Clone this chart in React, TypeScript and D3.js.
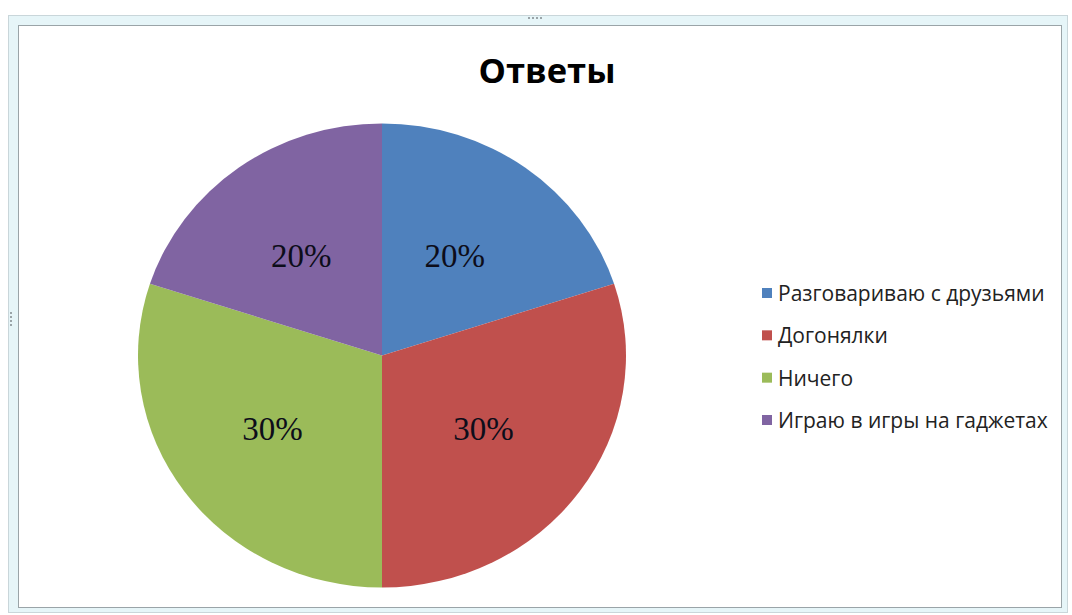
import React from "react";
import * as d3 from "d3";

const categories = [
  "Разговариваю с друзьями",
  "Догонялки",
  "Ничего",
  "Играю в игры на гаджетах",
];
const values = [20, 30, 30, 20];
const labels = ["20%", "30%", "30%", "20%"];
const colors = ["#4F81BD", "#C0504D", "#9BBB59", "#8064A2"];
const title = "Ответы";

export default function App() {
  const W = 1072;
  const H = 615;
  const cx = 382;
  const cy = 355.5;
  const ry = 232;
  const rx = 244;
  const sx = rx / ry;

  const pie = d3
    .pie<number>()
    .sort(null)
    .value((d) => d)
    .startAngle(0)
    .endAngle(2 * Math.PI);
  const arcs = pie(values);
  const arc = d3.arc<d3.PieArcDatum<number>>().innerRadius(0).outerRadius(ry);
  const labelArc = d3
    .arc<d3.PieArcDatum<number>>()
    .innerRadius(124)
    .outerRadius(124);

  const legendY = d3
    .scalePoint<string>()
    .domain(categories)
    .range([293, 420]);

  return (
    <svg
      width={W}
      height={H}
      style={{ position: "absolute", left: 0, top: 0, background: "#fff" }}
    >
      {/* frame */}
      <rect x={8.5} y={15.5} width={1059} height={597} fill="#e6f5f8" stroke="#c9d6da" />
      <rect x={18.5} y={25.5} width={1043} height={582} fill="#ffffff" stroke="#9aa4a8" />
      <g fill="#9aa4a8">
        <rect x={528} y={17} width={2} height={2} />
        <rect x={532} y={17} width={2} height={2} />
        <rect x={536} y={17} width={2} height={2} />
        <rect x={540} y={17} width={2} height={2} />
        <rect x={10} y={312} width={2} height={2} />
        <rect x={10} y={316} width={2} height={2} />
        <rect x={10} y={320} width={2} height={2} />
        <rect x={10} y={324} width={2} height={2} />
      </g>

      <text
        x={547}
        y={83}
        textAnchor="middle"
        fontFamily="'Open Sans', 'DejaVu Sans', sans-serif"
        fontWeight="bold"
        fontSize={34.5}
        fill="#000"
      >
        {title}
      </text>

      <g transform={`translate(${cx},${cy}) scale(${sx},1)`}>
        {arcs.map((a, i) => (
          <path key={i} d={arc(a) || ""} fill={colors[i]} />
        ))}
      </g>
      {arcs.map((a, i) => {
        const [lx, ly] = labelArc.centroid(a);
        return (
          <text
            key={i}
            x={cx + lx * sx - 4}
            y={cy + ly + 12}
            textAnchor="middle"
            fontFamily="'Liberation Serif', 'Times New Roman', serif"
            fontSize={33}
            fill="#0d0d1a"
          >
            {labels[i]}
          </text>
        );
      })}

      {categories.map((c, i) => {
        const y = legendY(c) as number;
        return (
          <g key={c}>
            <rect x={762} y={y - 5} width={10} height={10} fill={colors[i]} />
            <text
              x={778}
              y={y}
              dominantBaseline="central"
              fontFamily="'Open Sans', 'DejaVu Sans', sans-serif"
              fontSize={21}
              fill="#222"
            >
              {c}
            </text>
          </g>
        );
      })}
    </svg>
  );
}
